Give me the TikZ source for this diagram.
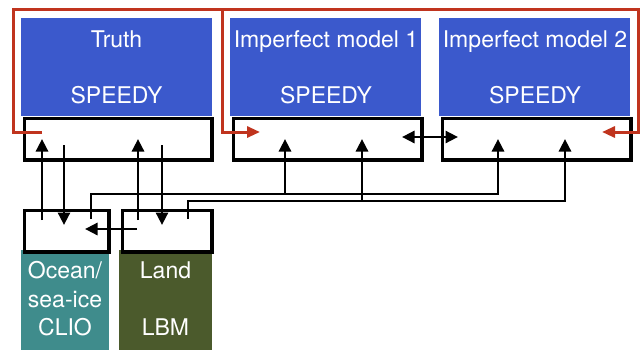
\documentclass[tikz,border=0pt]{standalone}
\usepackage{fontspec}
\setmainfont{TeX Gyre Heros}
\usetikzlibrary{arrows.meta}
\definecolor{speedyblue}{RGB}{59,89,204}
\definecolor{clioteal}{RGB}{63,140,140}
\definecolor{lbmolive}{RGB}{75,90,44}
\definecolor{nudgered}{RGB}{192,52,30}
\tikzset{
  comp/.style={draw=none, anchor=north west, inner sep=0pt},
  atm/.style={comp, fill=speedyblue, minimum width=191pt, minimum height=98pt},
  cpl/.style={comp, draw=black, fill=white, line width=3.6pt, minimum height=41.4pt},
  lbl/.style={anchor=base, text=white, font=\fontsize{23}{27}\selectfont},
  tip/.style={-{Triangle[length=12.5pt,width=12pt]}},
  flux/.style={line width=2.8pt, tip},
  nudge/.style={line width=3pt, nudgered, -{Triangle[length=13pt,width=11pt]}},
}
\begin{document}
\begin{tikzpicture}[x=1pt,y=-1pt]
\useasboundingbox (0,0) rectangle (643,349);
% atmosphere: truth and two imperfect models
\node[atm] (truth) at (21,18) {};
\node[atm] (imone) at (230,18) {};
\node[atm] (imtwo) at (439,18) {};
\node[cpl, minimum width=187.4pt] (truthcpl) at (22.8,116.8) {};
\node[cpl, minimum width=188.4pt] (imonecpl) at (231.8,116.8) {};
\node[cpl, minimum width=188.4pt] (imtwocpl) at (440.8,116.8) {};
\node[lbl] (truthname) at (116.5,47) {Truth};
\node[lbl] (imonename) at (326,47) {Imperfect model 1};
\node[lbl] (imtwoname) at (535,47) {Imperfect model 2};
\node[lbl] (truthcode) at (116.5,103) {SPEEDY};
\node[lbl] (imonecode) at (326,103) {SPEEDY};
\node[lbl] (imtwocode) at (535,103) {SPEEDY};
% ocean and land
\node[comp, fill=clioteal, minimum width=88pt, minimum height=100pt] (ocean) at (21,250) {};
\node[comp, fill=lbmolive, minimum width=93pt, minimum height=100pt] (land) at (119,250) {};
\node[cpl, minimum width=84.6pt] (oceancpl) at (22.8,208.8) {};
\node[cpl, minimum width=89.4pt] (landcpl) at (120.8,208.8) {};
\node[lbl] (oceanname) at (65,278) {Ocean/};
\node[lbl] (oceanname2) at (65,307) {sea-ice};
\node[lbl] (oceancode) at (65,335) {CLIO};
\node[lbl] (landname) at (165.5,278) {Land};
\node[lbl] (landcode) at (165.5,335) {LBM};
% ports
\coordinate (tin1) at (42,139);  \coordinate (tout1) at (64,145);
\coordinate (tin2) at (138,139); \coordinate (tout2) at (162,145);
\coordinate (oin) at (64,225);   \coordinate (oout) at (42,220);
\coordinate (lin) at (162,225);  \coordinate (lout) at (138,220);
\coordinate (oside) at (85,229); \coordinate (lside) at (137,229);
\coordinate (oup) at (91,219);   \coordinate (lup) at (188,219);
\coordinate (mone1) at (285,139); \coordinate (mone2) at (362,139);
\coordinate (mtwo1) at (498,139); \coordinate (mtwo2) at (565,139);
\coordinate (mright) at (402,137); \coordinate (mleft) at (458,137);
% truth <-> ocean/land
\draw[flux] (oout) -- (tin1);
\draw[flux] (tout1) -- (oin);
\draw[flux] (lout) -- (tin2);
\draw[flux] (tout2) -- (lin);
\draw[flux] (lside) -- (oside);
% ocean/land -> imperfect models
\draw[flux] (oup) |- (mtwo1 |- 0,194) -- (mtwo1);
\draw[flux] (mone1 |- 0,194) -- (mone1);
\draw[flux] (lup) |- (mtwo2 |- 0,201) -- (mtwo2);
\draw[flux] (mone2 |- 0,201) -- (mone2);
\draw[flux, {Triangle[length=12.5pt,width=12pt]}-{Triangle[length=12.5pt,width=12pt]}] (mright) -- (mleft);
% nudging from truth
\coordinate (tred) at (42,132);
\coordinate (mred1) at (260,132);
\coordinate (mred2) at (602,132);
\draw[nudge] (tred) -- (13,132) -- (13,9) -- (638,9) -- (638,132) -- (mred2);
\draw[nudge] (222,9) -- (222,132) -- (mred1);
\end{tikzpicture}
\end{document}
